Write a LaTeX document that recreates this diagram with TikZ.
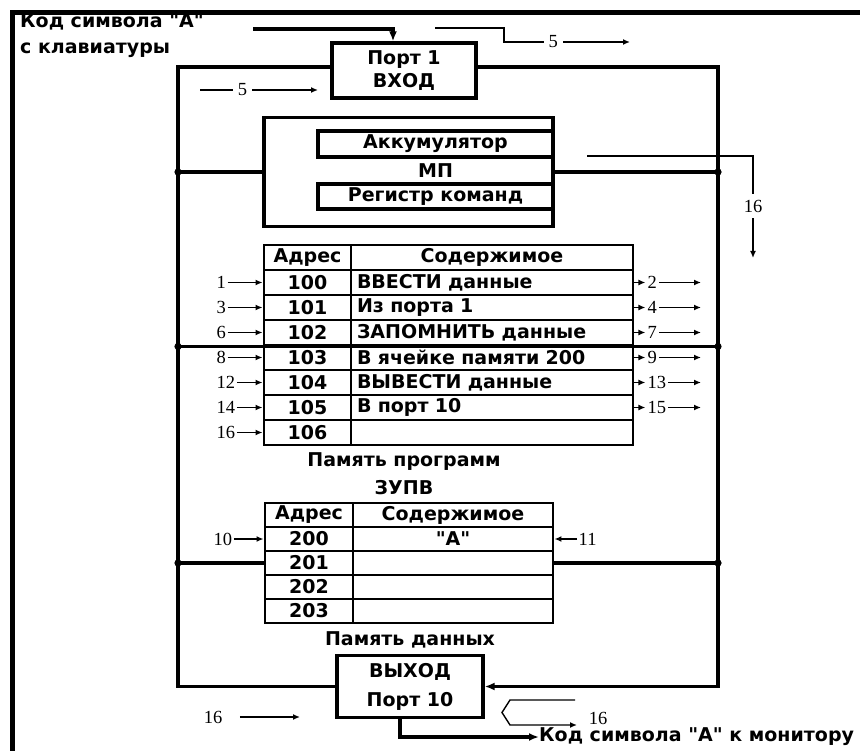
\documentclass[tikz,border=0pt]{standalone}
\usepackage{fontspec}
\setmainfont{DejaVu Sans}[Ligatures=TeXOff]
\newfontfamily\numfont{Liberation Serif}
\usetikzlibrary{arrows.meta}

\tikzset{
  box/.style={draw, line width=3.3pt, inner sep=0pt},
  cell/.style={draw, line width=2.9pt, inner xsep=6pt, inner ysep=0pt, minimum height=25pt},
  bus/.style={line width=3.3pt},
  sig/.style={line width=1.4pt},
  big/.style={-{Latex[length=10pt,width=8pt]}},
  lbl/.style={font=\fontsize{19}{23}\selectfont\bfseries},
  num/.style={font=\fontsize{18.5}{20}\selectfont\numfont, inner sep=1.5pt},
}

\begin{document}
\begin{tikzpicture}[x=1pt, y=-1pt, line join=miter, >={Latex[length=7pt,width=6pt]}]
\useasboundingbox (0,0) rectangle (860,751);

% рамка
\draw[line width=4.5pt] (12.5,751) -- (12.5,12.5) -- (860,12.5);

% клавиатура и порт 1
\node[lbl, anchor=west, inner sep=0pt] (kbd) at (20,22) {Код символа "А"};
\node[lbl, anchor=west, inner sep=0pt] (kbd2) at (20,50) {с клавиатуры};
\node[box, lbl, minimum width=144pt, minimum height=55pt, align=center] (port1) at (404,70.5) {Порт 1\\ВХОД};
\coordinate (kin) at (253,29);
\draw[bus, big] (kin) -| ([xshift=-11pt]port1.north);

% шина
\coordinate (btl) at (178,67);
\coordinate (btr) at (718,67);
\coordinate (bbr) at (718,686.5);
\coordinate (bbl) at (178,686.5);
\node[box, lbl, font=\fontsize{19}{29}\selectfont\bfseries, minimum width=146pt, minimum height=62pt, align=center] (port10) at (410,686.5) {ВЫХОД\\Порт 10};
\draw[bus] (port1.west |- btl) -- (btl) -- (bbl) -- (port10.west);
\draw[bus, big] (port1.east |- btr) -- (btr) -- (bbr) -- (port10.east);

% МП
\node[box, minimum width=289pt, minimum height=109pt] (mp) at (408.5,172) {};
\node[box, lbl, minimum width=235pt, minimum height=26pt] (acc) at (435.5,144) {Аккумулятор};
\node[lbl] (mpn) at (435.5,171) {МП};
\node[box, lbl, minimum width=235pt, minimum height=25pt] (reg) at (435.5,196.5) {Регистр команд};
\draw[bus] (mp.west) -- (mp.west -| btl);
\draw[bus] (mp.east) -- (mp.east -| btr);
\fill (mp.west -| btl) circle (3.6) (mp.east -| btr) circle (3.6);

% память программ
\coordinate (pend) at (701,0);
\node[cell, lbl, minimum width=87pt] (pa0) at (307.5,257.5) {Адрес};
\node[cell, lbl, minimum width=282pt] (pc0) at (492,257.5) {Содержимое};
\foreach \ad/\txt/\ln [count=\i] in {100/ВВЕСТИ данные/1, 101/Из порта 1/3, 102/ЗАПОМНИТЬ данные/6,
    103/В ячейке памяти 200/8, 104/ВЫВЕСТИ данные/12, 105/В порт 10/14, 106/{}/16} {
  \node[cell, lbl, minimum width=87pt] (pa\i) at (307.5,257.5+25*\i) {\ad};
  \node[cell, lbl, text width=270pt, align=left] (pc\i) at (492,257.5+25*\i) {\txt};
  \node[num, anchor=west] (pl\i) at (215,257.5+25*\i) {\ln};
  \draw[sig,->] (pl\i) -- (pa\i.west);
}
\foreach \rn [count=\i] in {2,4,7,9,13,15} {
  \draw[sig,->] (pc\i.east) -- ++(11,0) node[num, anchor=west] (pr\i) {\rn};
  \draw[sig,->] (pr\i) -- (pr\i -| pend);
}
\draw[bus] (pa3.south -| btl) -- (pc3.south -| btr);
\fill (pa3.south -| btl) circle (3.6) (pc3.south -| btr) circle (3.6);
\node[lbl] (prg) at (404,462) {Память программ};
\node[lbl] (zupv) at (404,488) {ЗУПВ};

% память данных
\node[cell, lbl, minimum width=88pt, minimum height=24pt] (da0) at (309,515) {Адрес};
\node[cell, lbl, minimum width=200pt, minimum height=24pt] (dc0) at (453,515) {Содержимое};
\foreach \ad/\txt [count=\i] in {200/"А", 201/{}, 202/{}, 203/{}} {
  \node[cell, lbl, minimum width=88pt, minimum height=24pt] (da\i) at (309,515+24*\i) {\ad};
  \node[cell, lbl, minimum width=200pt, minimum height=24pt] (dc\i) at (453,515+24*\i) {\txt};
}
\node[num, anchor=west] (dl1) at (212,539) {10};
\draw[sig,->] (dl1) -- (da1.west);
\node[num, anchor=west] (dr1) at (577,539) {11};
\draw[sig,->] (dr1) -- (dc1.east);
\draw[bus] (da2.west) -- (da2.west -| btl);
\draw[bus] (dc2.east) -- (dc2.east -| btr);
\fill (da2.west -| btl) circle (3.6) (dc2.east -| btr) circle (3.6);
\node[lbl] (dat) at (410,640) {Память данных};

% вывод на монитор
\node[lbl, anchor=west, inner sep=0pt] (mon) at (539,737) {Код символа "А" к монитору};
\draw[bus, big] ([xshift=-10pt]port10.south) |- (mon.west);

% номера шагов
\coordinate (a5s) at (200,90);
\coordinate (a5e) at (318,90);
\draw[sig,->] (a5s) -- node[num, fill=white, pos=.36, inner xsep=5pt] (n5a) {5} (a5e);
\coordinate (b5s) at (435,28);
\coordinate (b5e) at (630,42);
\draw[sig,->] (b5s) -| (504,42) -- node[num, fill=white, pos=.39, inner xsep=5pt] (n5b) {5} (b5e);
\coordinate (c16s) at (587,156);
\coordinate (c16e) at (753,258);
\draw[sig,->] (c16s) -| node[num, fill=white, pos=.745, inner ysep=6pt] (n16a) {16} (c16e);
\node[num] (n16b) at (213,717) {16};
\coordinate (d16e) at (300,717);
\draw[sig,->, shorten <=16pt] (n16b) -- (d16e);
\coordinate (e16s) at (575,700);
\coordinate (e16e) at (577,725);
\draw[sig,->] (e16s) -- (510,700) -- (502,712.5) -- (510,725) -- (e16e);
\node[num] (n16c) at (598,718) {16};

\end{tikzpicture}
\end{document}
